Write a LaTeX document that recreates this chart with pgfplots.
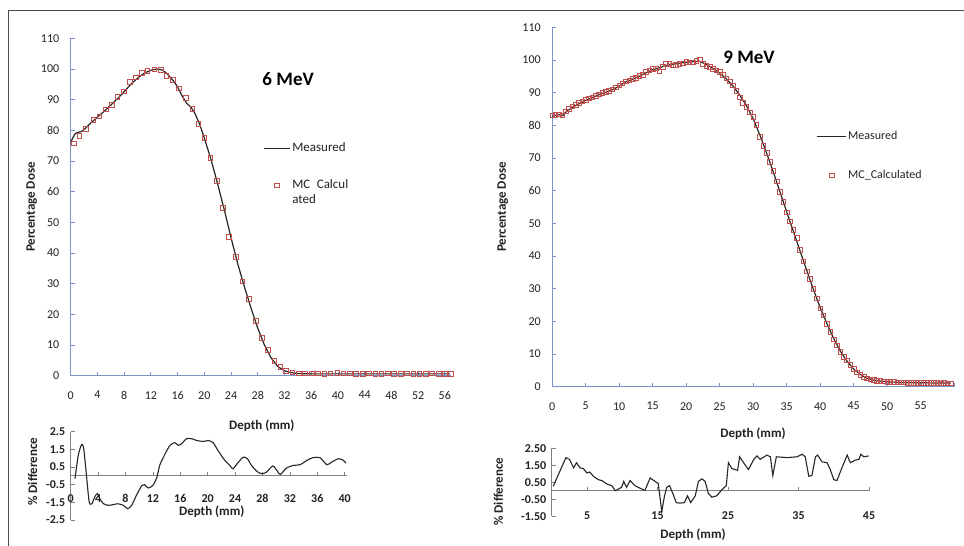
\documentclass[border=0pt]{standalone}
\usepackage{fontspec}
\setmainfont{Carlito}
\usepackage{pgfplots}
\pgfplotsset{compat=1.18}
\definecolor{axblue}{RGB}{120,148,196}
\definecolor{mcred}{RGB}{192,80,77}
\definecolor{axgray}{RGB}{128,128,128}
\definecolor{txt}{RGB}{35,35,35}

\pgfplotsset{
  panel/.style={
    scale only axis, anchor=south west, clip=false,
    axis lines*=left,
    axis line style={axblue, line width=1pt},
    tick style={axblue, line width=0.8pt},
    major tick length=4pt, tick align=inside,
    /pgf/number format/assume math mode=true,
    ticklabel style={font=\fontsize{12}{14}\selectfont, text=txt},
    xticklabel style={yshift=-12pt},
    yticklabel style={xshift=-8pt},
    every axis y label/.style={rotate=90, font=\fontsize{13}{15}\selectfont\bfseries, text=txt},
    every axis x label/.style={font=\fontsize{13}{15}\selectfont\bfseries, text=txt},
    legend cell align=left,
  },
  diff/.style={
    scale only axis, anchor=south west, clip=false,
    axis x line*=middle, axis y line*=left,
    hide obscured x ticks=false,
    axis line style={axgray, line width=0.9pt},
    tick style={axgray, line width=0.7pt},
    major tick length=4pt, tick align=inside,
    /pgf/number format/assume math mode=true,
    ticklabel style={font=\fontsize{12}{14}\selectfont\bfseries, text=txt},
    yticklabel style={xshift=-2pt},
    every axis y label/.style={rotate=90, font=\fontsize{13}{15}\selectfont\bfseries, text=txt},
    every axis x label/.style={font=\fontsize{13}{15}\selectfont\bfseries, text=txt},
  },
  meas/.style={black!85, line width=1.2pt},
  mc/.style={only marks, mark=square, mark size=2.3pt, mcred, mark options={line width=0.8pt}},
}

\begin{document}
\begin{tikzpicture}
\useasboundingbox (0pt,0pt) rectangle (964pt,546pt);
\fill[white] (0pt,0pt) rectangle (964pt,546pt);
\draw[line width=1pt, black!70] (8.5pt,0pt) -- (8.5pt,535pt) -- (964pt,535pt);

% ---------- 6 MeV ----------
\begin{axis}[panel, at={(70.7pt,170.3pt)}, width=380.8pt, height=337.4pt,
  xmin=0, xmax=57, ymin=0, ymax=110,
  xtick={0,4,...,56}, ytick={0,10,...,110},
  xlabel={Depth (mm)}, xlabel style={at={(axis description cs:0.502,-0.149)}, anchor=center},
  ylabel={Percentage Dose}, ylabel style={at={(axis description cs:-0.1024,0.5)}, anchor=center},
  legend style={at={(axis description cs:0.506,0.697)}, anchor=north west, draw=none, fill=none,
    inner sep=0pt, row sep=22pt, font=\fontsize{13}{16}\selectfont,
    cells={anchor=west}, nodes={inner sep=1.5pt, text height=9pt, text depth=3pt, text=txt}},
  legend image code/.code={\draw[mark repeat=2,mark phase=2,#1] plot coordinates {(0pt,0pt) (13pt,0pt) (26pt,0pt)};},
]
\addplot[meas] coordinates {
(0,76)(0.3,77.5)(0.7,79)(1.2,79.4)(1.6,79.6)(2.2,80.6)(3,82.4)(4,84.3)(5,86.2)(6,88.2)
(7,90.3)(8,92.6)(9,95)(10,97)(11,98.6)(12,99.6)(13,100)(13.8,99.6)(14.5,98.3)(15.3,96.3)
(16,94.2)(16.6,91.5)(17.3,89)(18,87.5)(18.6,85.5)(19.3,82)(20,77.5)(21,70.5)(22,62.5)
(23,54)(24,45)(25,36.5)(26,29)(27,22)(28,15.5)(29,10)(30,5.8)(31,3)(32,1.6)(33,1.0)
(34,0.7)(36,0.6)(40,0.6)(45,0.6)(50,0.6)(56.8,0.6)};
\addlegendentry{Measured}
\addplot[mc] coordinates {
(0.45,75.7)(1.3,78.1)(2.3,80.4)(3.4,83.4)(4.3,84.5)(5.3,86.8)(6.2,88.2)(7.0,90.9)(8.0,92.7)
(8.9,95.8)(9.8,97.2)(10.7,98.8)(11.5,99.3)(12.5,99.9)(13.5,99.7)(14.3,97.7)(15.3,96.4)
(16.2,93.7)(17.2,90.6)(18.2,86.9)(19.1,82.0)(20.0,77.6)(20.9,71.1)(21.9,63.6)(22.8,54.7)
(23.7,45.2)(24.7,38.8)(25.7,30.8)(26.7,25.0)(27.7,17.8)(28.6,12.4)(29.5,8.4)(30.5,4.9)
(31.4,2.9)(32.2,1.6)(33.2,1.1)(34.2,0.8)(35.1,0.7)(36.1,0.8)(37.0,0.7)(38.0,0.6)(38.9,0.7)
(39.9,0.9)(40.8,0.8)(41.8,0.7)(42.7,0.6)(43.7,0.6)(44.6,0.7)(45.6,0.6)(46.5,0.6)(47.5,0.7)
(48.4,0.6)(49.4,0.6)(50.3,0.7)(51.3,0.6)(52.2,0.6)(53.2,0.6)(54.1,0.7)(55.1,0.6)(56.0,0.6)(56.9,0.6)};
\addlegendentry{\smash{\begin{tabular}[t]{@{}l@{}}MC\enspace Calcul\\[-1pt]ated\end{tabular}}}
\node[font=\fontsize{19}{22}\selectfont\bfseries, text=black] at (axis description cs:0.571,0.879) {6 MeV};
\end{axis}

% ---------- 9 MeV ----------
\begin{axis}[panel, at={(552.2pt,159.3pt)}, width=402pt, height=359.4pt,
  xmin=0, xmax=60, ymin=0, ymax=110,
  xtick={0,5,...,60}, xticklabels={0,5,10,15,20,25,30,35,40,45,50,55,},
  ytick={0,10,...,110},
  xlabel={Depth (mm)}, xlabel style={at={(axis description cs:0.4995,-0.1316)}, anchor=center},
  ylabel={Percentage Dose}, ylabel style={at={(axis description cs:-0.123,0.5)}, anchor=center},
  legend style={at={(axis description cs:0.657,0.718)}, anchor=north west, draw=none, fill=none,
    inner sep=0pt, row sep=24pt, font=\fontsize{12}{15}\selectfont,
    cells={anchor=west}, nodes={inner sep=1.5pt, text height=9pt, text depth=3pt, text=txt}},
  legend image code/.code={\draw[mark repeat=2,mark phase=2,#1] plot coordinates {(0pt,0pt) (14.5pt,0pt) (29pt,0pt)};},
]
\addplot[meas] coordinates {
(0,82.8)(1,83.3)(1.6,83)(2,84)(3,85.5)(4,86.6)(5,87.6)(6,88.5)(7,89.4)(8,90.1)(9,90.9)
(10,92)(11,93.3)(12,94.1)(13,95)(14,96.1)(15,97)(16,97.6)(17,98.3)(18,98.7)(19,99)(20,99.3)
(21,99.5)(22,99.6)(23,98.6)(24,97.4)(25,96)(26,94.2)(27,92)(28,89.2)(29,86)(30,82)(31,77)
(32,71.5)(33,65.7)(34,59.6)(35,53.5)(36,47.5)(37,41.5)(38,35.5)(39,29.7)(40,24.2)(41,19.3)
(42,14.8)(43,10.9)(44,7.8)(45,5.4)(46,3.7)(47,2.6)(48,2.0)(49,1.7)(50,1.5)(52,1.3)(55,1.2)(59.5,1.1)};
\addlegendentry{Measured}
\addplot[mc] coordinates {
(0,83.0)(0.5,83.2)(1,83.3)(1.5,83.0)(2,84.2)(2.5,85.0)(3,85.8)(3.5,86.3)(4,86.8)(4.5,87.3)
(5,87.8)(5.5,88.2)(6,88.6)(6.5,89.0)(7,89.5)(7.5,89.9)(8,90.2)(8.5,90.6)(9,91.0)(9.5,91.6)
(10,92.2)(10.5,92.8)(11,93.5)(11.5,93.8)(12,94.2)(12.5,94.6)(13,95.1)(13.5,95.5)(14,96.3)
(14.5,96.8)(15,97.2)(15.5,97.4)(16,96.5)(16.5,97.8)(17,98.8)(17.5,98.8)(18,98.3)(18.5,98.5)
(19,98.8)(19.5,99.0)(20,99.5)(20.5,99.3)(21,99.3)(21.5,99.8)(22,100.2)(22.5,98.8)(23,98.2)
(23.5,97.8)(24,97.2)(24.5,96.8)(25,96.3)(25.5,95.4)(26,94.4)(26.5,93.4)(27,92.2)(27.5,90.6)
(28,88.5)(28.5,86.8)(29,85.6)(29.5,84.0)(30,82.5)(30.5,80.2)(31,76.5)(31.5,73.7)(32,71.5)
(32.5,68.8)(33,66.0)(33.5,62.8)(34,59.6)(34.5,56.6)(35,53.3)(35.5,50.6)(36,48.0)(36.5,45.5)
(37,41.8)(37.5,38.3)(38,35.3)(38.5,33.0)(39,30.0)(39.5,27.0)(40,24.0)(40.5,21.8)(41,19.3)
(41.5,16.8)(42,14.5)(42.5,12.6)(43,10.6)(43.5,9.1)(44,8.0)(44.5,6.6)(45,5.4)(45.5,4.4)
(46,3.6)(46.5,3.0)(47,2.5)(47.5,2.2)(48,2.0)(48.5,1.8)(49,1.7)(49.5,1.6)(50,1.5)(50.5,1.5)
(51,1.4)(51.5,1.3)(52,1.3)(52.5,1.3)(53,1.2)(53.5,1.2)(54,1.2)(54.5,1.2)(55,1.1)(55.5,1.1)
(56,1.1)(56.5,1.1)(57,1.1)(57.5,1.1)(58,1.0)(58.5,1.1)(59,1.0)(59.5,1.0)};
\addlegendentry{MC\_Calculated}
\node[font=\fontsize{19}{22}\selectfont\bfseries, text=black] at (axis description cs:0.4896,0.9174) {9 MeV};
\end{axis}

% ---------- % difference, 6 MeV ----------
\begin{axis}[diff, at={(70.7pt,26pt)}, width=276pt, height=88.3pt,
  xmin=0, xmax=40.3, ymin=-2.5, ymax=2.5,
  xtick={0,4,...,40}, ytick={-2.5,-1.5,-0.5,0.5,1.5,2.5},
  yticklabels={-2.5,-1.5,-0.5,0.5,1.5,2.5},
  xticklabel style={yshift=-15pt},
  xlabel={Depth (mm)}, xlabel style={at={(axis description cs:0.511,0.09)}, anchor=center},
  ylabel={\% Difference}, ylabel style={at={(axis description cs:-0.1377,0.547)}, anchor=center},
]
\addplot[black!85, line width=1.1pt, smooth, tension=0.4] coordinates {
(0.63,-0.16)(1.1,1.16)(1.6,1.78)(1.9,1.54)(2.3,0.03)(2.7,-1.48)(3.1,-1.58)(3.5,-1.2)(3.9,-1.0)
(4.3,-1.33)(4.8,-1.58)(5.5,-1.67)(6.2,-1.63)(6.9,-1.58)(7.7,-1.67)(8.3,-1.86)(8.9,-1.67)
(9.6,-1.1)(10.4,-0.54)(10.8,-0.5)(11.3,-0.69)(12.0,-0.54)(12.6,-0.07)(13.0,0.6)(13.8,1.26)
(14.5,1.73)(15.2,1.88)(15.7,1.73)(16.2,1.82)(16.9,2.1)(17.7,2.1)(18.4,2.0)(19.4,1.95)(20.1,2.0)
(20.8,1.88)(21.5,1.44)(22.5,0.88)(23.3,0.56)(23.7,0.4)(24.5,0.78)(25.2,1.06)(25.8,0.97)
(26.4,0.59)(27.2,0.25)(27.9,0.12)(28.6,0.21)(29.5,0.56)(30.1,0.31)(30.6,0.08)(31.5,0.44)
(32.5,0.59)(33.5,0.63)(34.5,0.88)(35.4,1.03)(36.4,1.03)(37.4,0.63)(38.1,0.78)(39.1,0.97)
(39.8,0.88)(40.2,0.72)};
\end{axis}

% ---------- % difference, 9 MeV ----------
\begin{axis}[diff, at={(551.8pt,29.8pt)}, width=318.3pt, height=67.9pt,
  xmin=0, xmax=45.15, ymin=-1.5, ymax=2.5,
  xtick={5,15,...,45}, ytick={-1.5,-0.5,0.5,1.5,2.5},
  yticklabels={-1.50,-0.50,0.50,1.50,2.50},
  xticklabel style={yshift=-17pt},
  xlabel={Depth (mm)}, xlabel style={at={(axis description cs:0.4436,-0.277)}, anchor=center},
  ylabel={\% Difference}, ylabel style={at={(axis description cs:-0.168,0.361)}, anchor=center},
]
\addplot[black!85, line width=1.1pt] coordinates {
(0.2,0.26)(2.0,1.95)(2.5,1.85)(3.1,1.35)(3.5,1.65)(4.0,1.35)(4.5,1.3)(4.95,1.05)(5.4,1.1)
(5.9,0.85)(6.6,0.65)(7.1,0.6)(7.8,0.4)(8.5,0.3)(9.0,0.0)(9.45,0.1)(9.9,0.2)(10.2,0.55)
(10.6,0.2)(11.1,0.6)(11.8,0.3)(12.5,0.15)(13.2,0.02)(13.95,0.75)(14.65,0.55)(15.1,0.42)
(15.6,-1.23)(15.95,-0.38)(16.3,0.2)(16.7,0.3)(17.2,-0.2)(17.65,-0.7)(18.2,-0.73)(18.8,-0.7)
(19.25,-0.3)(19.7,-0.7)(20.35,-0.3)(20.8,0.55)(21.3,0.7)(21.75,0.55)(22.2,-0.15)(22.7,-0.38)
(23.4,-0.3)(24.1,0.05)(24.75,0.3)(25.05,1.65)(25.55,1.3)(26.0,1.25)(26.35,1.2)(26.65,2.0)
(27.2,1.65)(27.9,1.25)(28.65,1.85)(29.1,2.05)(29.55,1.85)(30.15,2.0)(30.5,2.1)(31.0,2.0)
(31.35,0.9)(31.85,2.0)(33.35,1.95)(34.8,2.0)(35.5,2.15)(35.95,2.0)(36.45,0.85)(36.9,0.9)
(37.4,2.0)(37.7,2.1)(38.35,1.7)(39.05,1.65)(39.5,1.25)(40.0,0.65)(40.45,0.6)(41.15,1.35)
(41.9,2.1)(42.35,1.65)(43.05,1.8)(43.55,1.85)(43.85,2.15)(44.25,2.0)(44.95,2.05)};
\end{axis}
\end{tikzpicture}
\end{document}
